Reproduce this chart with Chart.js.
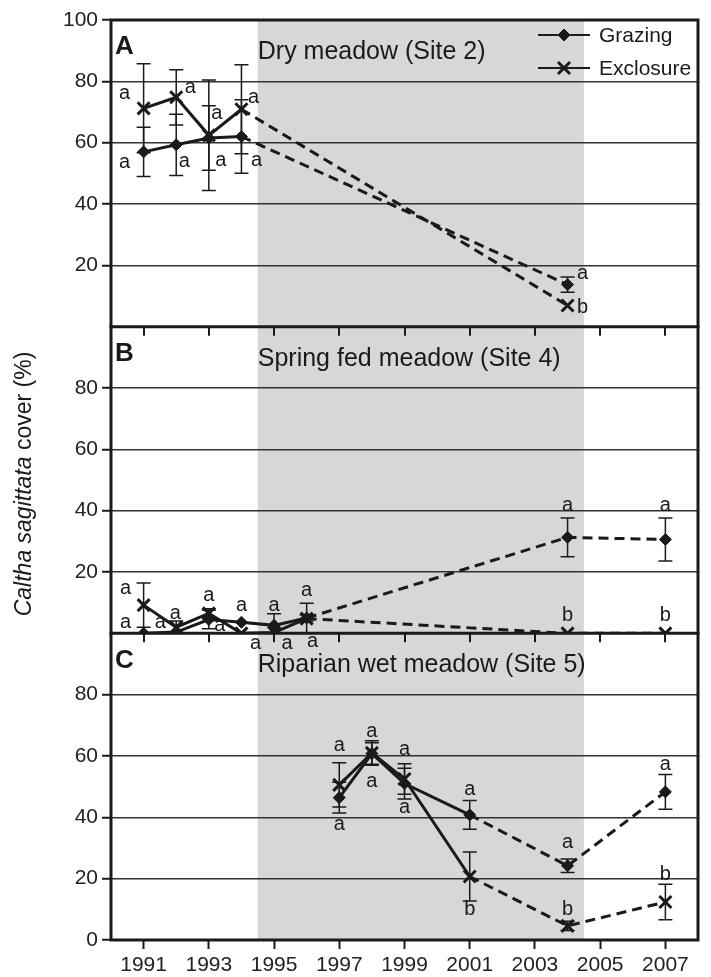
<!DOCTYPE html>
<html>
<head>
<meta charset="utf-8">
<script src="https://cdn.jsdelivr.net/npm/chart.js@4.4.1/dist/chart.umd.min.js"></script>
<style>
  html, body { margin: 0; padding: 0; background: #fff; }
  #wrap { position: relative; width: 711px; height: 977px; }
</style>
</head>
<body>
<div id="wrap"><canvas id="chart" width="711" height="977"></canvas></div>
<script>
// Common texts and axis ticks
const xTickYears = [1991, 1993, 1995, 1997, 1999, 2001, 2003, 2005, 2007];
const shadedYears = [1994.5, 2004.5];
const seriesNames = ['Grazing', 'Exclosure'];
const panelLetters = ['A', 'B', 'C'];
const panelTitles = ['Dry meadow (Site 2)', 'Spring fed meadow (Site 4)', 'Riparian wet meadow (Site 5)'];
const yTitleItalic = 'Caltha sagittata';
const yTitleRest = ' cover (%)';

// Panel A - Dry meadow (Site 2)
const yearsA = [1991, 1992, 1993, 1994, 2004];
const grazingA = [57, 59.3, 61.5, 62, 13.7];
const grazingErrA = [8, 10, 10.5, 12, 2.5];
const exclosureA = [71.2, 74.8, 62.4, 70.9, 6.9];
const exclosureErrA = [14.5, 9, 18, 14.5, 0];
const grazingLettersA = ['a', 'a', 'a', 'a', 'a'];
const exclosureLettersA = ['a', 'a', 'a', 'a', 'b'];
const yTicksA = [20, 40, 60, 80, 100];

// Panel B - Spring fed meadow (Site 4)
const yearsB = [1991, 1992, 1993, 1994, 1995, 1996, 2004, 2007];
const grazingB = [0, 0.4, 4.5, 3.6, 2.6, 5, 31.3, 30.6];
const grazingErrB = [0, 0, 3, 0, 3.8, 1, 6.3, 7];
const exclosureB = [9.2, 2, 6.5, 0, 0.3, 4.8, 0, 0];
const exclosureErrB = [7.2, 2, 1.5, 0, 0, 5, 0, 0];
const grazingLettersB = ['a', 'a', 'a', 'a', 'a', 'a', 'a', 'a'];
const exclosureLettersB = ['a', 'a', 'a', 'a', 'a', 'a', 'b', 'b'];
const yTicksB = [20, 40, 60, 80];

// Panel C - Riparian wet meadow (Site 5)
const yearsC = [1997, 1998, 1999, 2001, 2004, 2007];
const grazingC = [46.4, 60.8, 51, 40.8, 24.2, 48.3];
const grazingErrC = [5, 3.5, 5, 4.7, 2.2, 5.7];
const exclosureC = [50.6, 61, 52.5, 20.7, 4.6, 12.4];
const exclosureErrC = [7.2, 4, 5, 8, 1.5, 5.8];
const grazingLettersC = ['a', 'a', 'a', 'a', 'a', 'a'];
const exclosureLettersC = ['a', 'a', 'a', 'b', 'b', 'b'];
const yTicksC = [0, 20, 40, 60, 80];

// Last year joined by a solid line (dashed afterwards)
const solidUntil = [1994, 1996, 2001];

// Letter placement, pixel offsets from each point [grazing, exclosure]
const letterOffsets = {
    yA: [[[-19, 11], [8, 17], [12, 22], [15, 24], [15, -11]],
         [[-19, -15], [14, -10], [8, -22], [12, -12], [15, 2]]],
    yB: [[[-18, -11], [-16, -10], [11, 6], [0, -17], [0, -20], [0, -28], [0, -32], [0, -34]],
         [[-18, -17], [-1, -14], [0, -18], [14, 10], [13, 11], [6, 23], [0, -18], [0, -18]]],
    yC: [[[0, 27], [0, 28], [0, 24], [0, -25], [0, -23], [0, -27]],
         [[0, -39], [0, -21], [0, -30], [0, 33], [0, -16], [0, -27]]]
};

const FONT = "'Liberation Sans', Arial, sans-serif";
const INK = '#1a1a1a';

const panels = [
    { axis: 'yA', years: yearsA, values: [grazingA, exclosureA], errors: [grazingErrA, exclosureErrA], letters: [grazingLettersA, exclosureLettersA], ticks: yTicksA },
    { axis: 'yB', years: yearsB, values: [grazingB, exclosureB], errors: [grazingErrB, exclosureErrB], letters: [grazingLettersB, exclosureLettersB], ticks: yTicksB },
    { axis: 'yC', years: yearsC, values: [grazingC, exclosureC], errors: [grazingErrC, exclosureErrC], letters: [grazingLettersC, exclosureLettersC], ticks: yTicksC }
];

const markerStyles = [
    { pointStyle: 'rectRot', radius: 6, borderWidth: 1 },
    { pointStyle: 'crossRot', radius: 8.5, borderWidth: 3 }
];

const datasets = [];
panels.forEach((p, k) => {
    [0, 1].forEach(s => {
        datasets.push({
            label: seriesNames[s],
            yAxisID: p.axis,
            data: p.years.map((yr, i) => ({ x: yr, y: p.values[s][i] })),
            errors: p.errors[s],
            letters: p.letters[s],
            letterOffsets: letterOffsets[p.axis][s],
            borderColor: INK,
            backgroundColor: INK,
            borderWidth: 3,
            pointStyle: markerStyles[s].pointStyle,
            pointRadius: markerStyles[s].radius,
            pointBorderWidth: markerStyles[s].borderWidth,
            tension: 0,
            segment: {
                borderDash: ctx => ctx.p1.parsed.x > solidUntil[k] ? [10, 6] : undefined
            }
        });
    });
});

function yAxis(ticks) {
    return {
        type: 'linear',
        min: 0,
        max: 100,
        stack: 'panels',
        position: 'left',
        afterFit: s => { s.width = 111; },
        border: { display: false },
        grid: {
            color: c => (c.tick && (c.tick.value === 0 || c.tick.value === 100)) ? 'rgba(0,0,0,0)' : '#333',
            lineWidth: 1.5,
            tickLength: 9,
            tickWidth: 2,
            tickColor: c => (c.tick && ticks.includes(c.tick.value)) ? INK : 'rgba(0,0,0,0)'
        },
        ticks: {
            stepSize: 20,
            callback: v => ticks.includes(v) ? String(v) : '',
            font: { size: 21, family: FONT },
            color: '#222',
            padding: 4
        }
    };
}

// Shading, frame, error bars, letters, titles, legend
const panelDecor = {
    id: 'panelDecor',
    beforeDraw(chart) {
        const { ctx, chartArea: a, scales } = chart;
        ctx.save();
        ctx.fillStyle = '#fff';
        ctx.fillRect(0, 0, chart.width, chart.height);
        const x0 = scales.x.getPixelForValue(shadedYears[0]);
        const x1 = scales.x.getPixelForValue(shadedYears[1]);
        ctx.fillStyle = '#d7d7d7';
        ctx.fillRect(x0, a.top, x1 - x0, a.bottom - a.top);
        ctx.restore();
    },
    beforeDatasetsDraw(chart) {
        const { ctx, chartArea: a, scales } = chart;
        ctx.save();
        ctx.strokeStyle = INK;
        // tick marks under panels A and B
        ctx.lineWidth = 2;
        ['yA', 'yB'].forEach(id => {
            const yb = scales[id].bottom;
            xTickYears.forEach(yr => {
                const px = Math.round(scales.x.getPixelForValue(yr));
                ctx.beginPath();
                ctx.moveTo(px, yb);
                ctx.lineTo(px, yb + 9);
                ctx.stroke();
            });
        });
        // frame and panel separators
        ctx.lineWidth = 3;
        ctx.strokeRect(a.left, a.top, a.right - a.left, a.bottom - a.top);
        ['yA', 'yB'].forEach(id => {
            const yb = scales[id].bottom;
            ctx.beginPath();
            ctx.moveTo(a.left - 1.5, yb);
            ctx.lineTo(a.right + 1.5, yb);
            ctx.stroke();
        });
        // error bars
        ctx.lineWidth = 1.5;
        chart.data.datasets.forEach(ds => {
            const ys = scales[ds.yAxisID];
            ds.data.forEach((p, i) => {
                const e = ds.errors[i];
                if (!e) return;
                const px = scales.x.getPixelForValue(p.x);
                const top = ys.getPixelForValue(p.y + e);
                const bot = ys.getPixelForValue(Math.max(p.y - e, 0));
                ctx.beginPath();
                ctx.moveTo(px, top); ctx.lineTo(px, bot);
                ctx.moveTo(px - 7, top); ctx.lineTo(px + 7, top);
                ctx.moveTo(px - 7, bot); ctx.lineTo(px + 7, bot);
                ctx.stroke();
            });
        });
        ctx.restore();
    },
    afterDatasetsDraw(chart) {
        const { ctx, chartArea: a, scales } = chart;
        ctx.save();
        ctx.fillStyle = INK;
        ctx.strokeStyle = INK;
        // significance letters
        ctx.font = '20px ' + FONT;
        ctx.textAlign = 'center';
        ctx.textBaseline = 'middle';
        chart.data.datasets.forEach(ds => {
            const ys = scales[ds.yAxisID];
            ds.data.forEach((p, i) => {
                const off = ds.letterOffsets[i];
                ctx.fillText(ds.letters[i], scales.x.getPixelForValue(p.x) + off[0], ys.getPixelForValue(p.y) + off[1]);
            });
        });
        // panel letters and titles
        const titleX = scales.x.getPixelForValue(shadedYears[0]);
        panels.forEach((p, k) => {
            const top = scales[p.axis].top;
            ctx.textAlign = 'left';
            ctx.font = 'bold 26px ' + FONT;
            ctx.fillText(panelLetters[k], a.left + 4, top + 27);
            ctx.font = '25px ' + FONT;
            ctx.fillText(panelTitles[k], titleX, top + 32);
        });
        // legend
        const lx = a.right - 160;
        [0, 1].forEach(s => {
            const ly = a.top + 15 + s * 33;
            ctx.lineWidth = 2;
            ctx.beginPath();
            ctx.moveTo(lx, ly);
            ctx.lineTo(lx + 52, ly);
            ctx.stroke();
            ctx.lineWidth = markerStyles[s].borderWidth;
            Chart.helpers.drawPoint(ctx, {
                pointStyle: markerStyles[s].pointStyle,
                radius: markerStyles[s].radius,
                borderWidth: markerStyles[s].borderWidth,
                rotation: 0
            }, lx + 26, ly);
            ctx.font = '21px ' + FONT;
            ctx.textAlign = 'left';
            ctx.fillText(seriesNames[s], lx + 61, ly + 1);
        });
        // y axis title, partly italic
        ctx.translate(25, (a.top + a.bottom) / 2 + 4);
        ctx.rotate(-Math.PI / 2);
        ctx.textAlign = 'left';
        ctx.font = 'italic 23px ' + FONT;
        const w1 = ctx.measureText(yTitleItalic).width;
        ctx.font = '23px ' + FONT;
        const w2 = ctx.measureText(yTitleRest).width;
        const sx = -(w1 + w2) / 2;
        ctx.font = 'italic 23px ' + FONT;
        ctx.fillText(yTitleItalic, sx, 0);
        ctx.font = '23px ' + FONT;
        ctx.fillText(yTitleRest, sx + w1, 0);
        ctx.restore();
    }
};

new Chart(document.getElementById('chart').getContext('2d'), {
    type: 'line',
    data: { datasets: datasets },
    options: {
        responsive: false,
        animation: false,
        layout: { padding: { top: 20, right: 13, left: 0, bottom: 0 } },
        scales: {
            x: {
                type: 'linear',
                min: 1990,
                max: 2008,
                afterBuildTicks: s => { s.ticks = xTickYears.map(v => ({ value: v })); },
                afterFit: s => { s.height = 37; },
                border: { display: false },
                grid: { drawOnChartArea: false, tickLength: 9, tickWidth: 2, tickColor: INK },
                ticks: {
                    callback: v => String(v),
                    font: { size: 21, family: FONT },
                    color: '#222',
                    padding: 4,
                    maxRotation: 0,
                    autoSkip: false
                }
            },
            // stacked left axes are placed top-down from the last one defined
            yC: yAxis(yTicksC),
            yB: yAxis(yTicksB),
            yA: yAxis(yTicksA)
        },
        plugins: {
            legend: { display: false },
            tooltip: { enabled: false }
        }
    },
    plugins: [panelDecor]
});
</script>
</body>
</html>
